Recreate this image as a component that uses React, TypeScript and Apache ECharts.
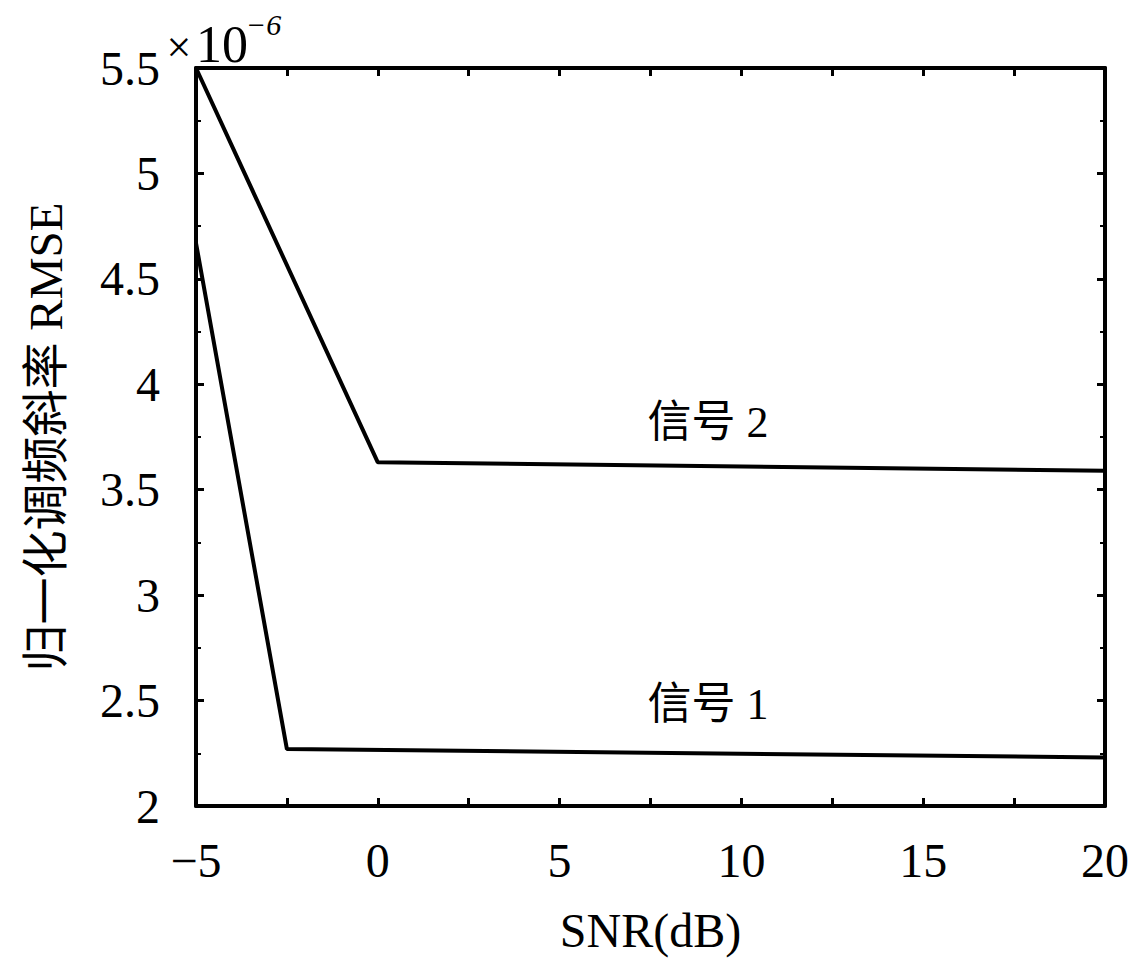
import React, { useEffect, useRef } from "react";
import * as echarts from "echarts";

const xTicks = [-5, 0, 5, 10, 15, 20];
const yTicks = [2, 2.5, 3, 3.5, 4, 4.5, 5, 5.5];
const signal1X = [-5, -2.5, 20];
const signal1Y = [4.67, 2.27, 2.23];
const signal2X = [-5, 0, 20];
const signal2Y = [5.5, 3.63, 3.59];
const seriesNames = ["信号 1", "信号 2"];
const xName = "SNR(dB)";
const yName = "归一化调频斜率 RMSE";

const FONT = "'Liberation Serif', 'Noto Sans CJK SC', serif";

export default function App() {
  const ref = useRef<HTMLDivElement>(null);
  useEffect(() => {
    if (!ref.current) return;
    const chart = echarts.init(ref.current, null, { renderer: "svg" });
    const axisLine = { show: true, onZero: false, lineStyle: { color: "#000", width: 4 } };
    const commonX = {
      type: "value" as const,
      min: xTicks[0],
      max: xTicks[xTicks.length - 1],
      interval: 5,
      axisLine,
      axisTick: { show: true, inside: true, length: 8, lineStyle: { color: "#000", width: 3 } },
      minorTick: { show: true, splitNumber: 2, length: 8, lineStyle: { color: "#000", width: 3 } },
      splitLine: { show: false },
    };
    const commonY = {
      type: "value" as const,
      min: yTicks[0],
      max: yTicks[yTicks.length - 1],
      interval: 0.5,
      axisLine,
      axisTick: { show: true, inside: true, length: 8, lineStyle: { color: "#000", width: 3 } },
      minorTick: { show: true, splitNumber: 2, length: 5, lineStyle: { color: "#000", width: 2 } },
      splitLine: { show: false },
    };
    chart.setOption({
      animation: false,
      backgroundColor: "#fff",
      grid: {
        left: 196,
        right: 31,
        top: 68,
        bottom: 160,
        containLabel: false,
        outerBoundsMode: "none",
        show: false,
      },
      xAxis: [
        {
          ...commonX,
          position: "bottom",
          name: xName,
          nameLocation: "middle",
          nameGap: 100,
          nameTextStyle: { fontFamily: FONT, fontSize: 48, color: "#000" },
          axisLabel: {
            show: true,
            margin: 30,
            fontFamily: FONT,
            fontSize: 48,
            color: "#000",
            formatter: (v: number) => String(v).replace("-", "\u2212"),
          },
        },
        { ...commonX, position: "top", axisLabel: { show: false } },
      ],
      yAxis: [
        {
          ...commonY,
          position: "left",
          name: yName,
          nameLocation: "middle",
          nameRotate: 90,
          nameGap: 127,
          nameTextStyle: { fontFamily: FONT, fontSize: 47, color: "#000" },
          axisLabel: {
            show: true,
            margin: 36,
            fontFamily: FONT,
            fontSize: 48,
            color: "#000",
          },
        },
        { ...commonY, position: "right", axisLabel: { show: false } },
      ],
      series: [
        {
          name: seriesNames[0],
          type: "line",
          data: signal1X.map((x, i) => [x, signal1Y[i]]),
          showSymbol: false,
          lineStyle: { color: "#000", width: 4 },
        },
        {
          name: seriesNames[1],
          type: "line",
          data: signal2X.map((x, i) => [x, signal2Y[i]]),
          showSymbol: false,
          lineStyle: { color: "#000", width: 4 },
        },
      ],
      graphic: [
        {
          type: "text",
          x: 708,
          y: 422,
          style: {
            text: seriesNames[1],
            font: `44px ${FONT}`,
            fill: "#000",
            align: "center",
            verticalAlign: "middle",
          },
        },
        {
          type: "text",
          x: 708,
          y: 704,
          style: {
            text: seriesNames[0],
            font: `44px ${FONT}`,
            fill: "#000",
            align: "center",
            verticalAlign: "middle",
          },
        },
        {
          type: "text",
          x: 179,
          y: 47,
          style: {
            text: "\u00d7",
            font: `44px ${FONT}`,
            fill: "#000",
            align: "center",
            verticalAlign: "middle",
          },
        },
        {
          type: "text",
          x: 196,
          y: 44,
          style: {
            text: "10",
            font: `52px ${FONT}`,
            fill: "#000",
            align: "left",
            verticalAlign: "middle",
          },
        },
        {
          type: "text",
          x: 246,
          y: 24,
          style: {
            text: "\u22126",
            font: `italic 30px ${FONT}`,
            fill: "#000",
            align: "left",
            verticalAlign: "middle",
          },
        },
      ],
    });
    return () => chart.dispose();
  }, []);
  return (
    <div
      ref={ref}
      style={{ position: "fixed", left: 0, top: 0, width: 1136, height: 966, background: "#fff" }}
    />
  );
}
